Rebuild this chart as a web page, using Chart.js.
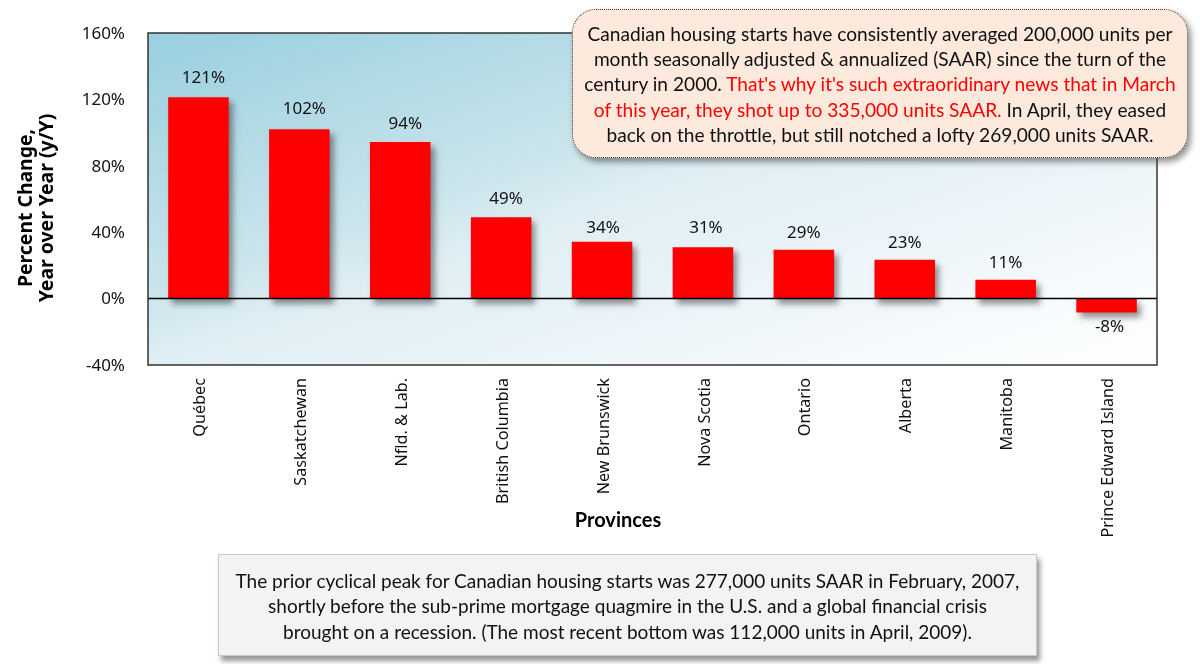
<!DOCTYPE html>
<html><head><meta charset="utf-8">
<script src="https://cdn.jsdelivr.net/npm/chart.js@4"></script>
<style>
html,body{margin:0;padding:0;background:#fff;width:1200px;height:664px;overflow:hidden}
#wrap{position:relative;width:1200px;height:664px}
canvas{position:absolute;left:0;top:0}
.box{position:absolute;box-sizing:border-box;text-align:center;font-family:Lato,sans-serif;color:#111;white-space:nowrap}
#note1{left:572px;top:9px;width:616px;height:149px;background:#fdeadd;border:1.5px dotted #333;border-radius:24px;box-shadow:3px 4px 6px rgba(70,70,70,.6);font-size:19.15px;line-height:25.2px;padding-top:11px;z-index:2}
#note1 span{color:#f00}
#note2{left:218px;top:554px;width:819px;height:102px;background:#f3f3f3;border:1px solid #c8c8c8;box-shadow:3px 5px 5px rgba(80,80,80,.6);font-size:19px;line-height:25.4px;padding-top:13px;z-index:2}
</style></head>
<body><div id="wrap">
<canvas id="c" width="1200" height="664"></canvas>
<div class="box" id="note1">Canadian housing starts have consistently averaged 200,000 units per<br>month seasonally adjusted &amp; annualized (SAAR) since the turn of the<br>century in 2000. <span>That's why it's such extraoridinary news that in March<br>of this year, they shot up to 335,000 units SAAR.</span> In April, they eased<br>back on the throttle, but still notched a lofty 269,000 units SAAR.</div>
<div class="box" id="note2">The prior cyclical peak for Canadian housing starts was 277,000 units SAAR in February, 2007,<br>shortly before the sub-prime mortgage quagmire in the U.S. and a global financial crisis<br>brought on a recession. (The most recent bottom was 112,000 units in April, 2009).</div>
</div>
<script>
const provinces = ["Québec","Saskatchewan","Nfld. & Lab.","British Columbia","New Brunswick","Nova Scotia","Ontario","Alberta","Manitoba","Prince Edward Island"];
const changes = [121.3,102,94.4,49,34.3,31,29.4,23.4,11.3,-8.4];
const yTicks = [-40,0,40,80,120,160];
const yTitleLines = ["Percent Change,","Year over Year (y/Y)"];
const xTitle = "Provinces";
const FONT = '"Noto Sans",sans-serif';
const labelNudgeX = [5,5,5,5,1,3,0,0,0,3];
const labelGapY = [19,20,18,18,14,19,17,17,17,15];

const decor = {
  id:'decor',
  beforeDraw(ch){
    const {ctx,chartArea:a}=ch;
    const g=ctx.createLinearGradient(a.left,a.top,a.left+214,a.top+611);
    g.addColorStop(0,'#98cfdf');g.addColorStop(.386,'#cbe5ec');g.addColorStop(.48,'#dfeef4');g.addColorStop(.72,'#eef6f9');g.addColorStop(1,'#ffffff');
    ctx.save();ctx.fillStyle=g;ctx.fillRect(a.left,a.top,a.right-a.left,a.bottom-a.top);ctx.restore();
  },
  beforeDatasetsDraw(ch){
    const {ctx}=ch;ctx.save();
    ctx.shadowColor='rgba(60,60,60,.55)';ctx.shadowBlur=6;ctx.shadowOffsetX=4;ctx.shadowOffsetY=5;
  },
  afterDatasetsDraw(ch){
    const {ctx,chartArea:a,scales}=ch;ctx.restore();ctx.save();
    const z=scales.y.getPixelForValue(0);
    ctx.strokeStyle='#000';ctx.lineWidth=1.5;
    ctx.beginPath();ctx.moveTo(a.left,z);ctx.lineTo(a.right,z);ctx.stroke();
    ctx.strokeStyle='#333';ctx.lineWidth=1.5;
    ctx.strokeRect(a.left,a.top,a.right-a.left,a.bottom-a.top);
    ctx.fillStyle='#111';ctx.font='17px '+FONT;ctx.textAlign='center';ctx.textBaseline='middle';
    ch.getDatasetMeta(0).data.forEach((b,i)=>{
      const v=changes[i];
      ctx.fillText(Math.round(v)+'%',b.x+labelNudgeX[i],v>=0?b.y-labelGapY[i]:b.y+labelGapY[i]);
    });
    ctx.fillStyle='#000';ctx.font='bold 19.4px '+FONT;
    ctx.save();ctx.translate(36,208);ctx.rotate(-Math.PI/2);
    ctx.fillText(yTitleLines[0],0,-10);ctx.fillText(yTitleLines[1],0,11);ctx.restore();
    ctx.font='bold 20px Lato,sans-serif';
    ctx.fillText(xTitle,618,521);
    ctx.restore();
  }
};

new Chart(document.getElementById('c'),{
  type:'bar',
  data:{labels:provinces,datasets:[{data:changes,backgroundColor:'#ff0000',barPercentage:.6,categoryPercentage:1}]},
  plugins:[decor],
  options:{
    responsive:false,animation:false,
    layout:{padding:{top:33,right:43,bottom:0,left:0}},
    plugins:{legend:{display:false},tooltip:{enabled:false}},
    scales:{
      x:{grid:{display:false},border:{display:false},
        afterFit(s){s.height=299;},
        ticks:{minRotation:90,maxRotation:90,autoSkip:false,padding:5,labelOffset:2,color:'#111',font:{family:'"Noto Sans",sans-serif',size:16.2}}},
      y:{min:-40,max:160,grid:{display:false},border:{display:false},
        afterFit(s){s.width=148;},
        afterBuildTicks(s){s.ticks=yTicks.map(v=>({value:v}));},
        ticks:{padding:15,labelOffset:1,color:'#111',callback:v=>v+'%',font:{family:'"Noto Sans",sans-serif',size:17}}}
    }
  }
});
</script></body></html>
